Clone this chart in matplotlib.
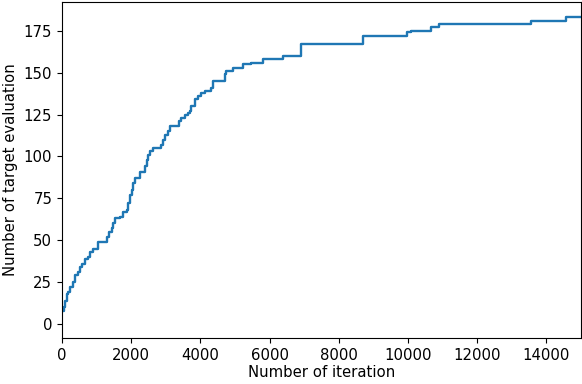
import matplotlib
matplotlib.use('Agg')
import matplotlib.pyplot as plt

# iteration at which the count increases, and the new count
iterations = [0, 58, 87, 136, 182, 231, 326, 375, 470, 519, 568, 664, 759, 808,
              903, 1047, 1290, 1365, 1434, 1480, 1529, 1673, 1769, 1867, 1913,
              1962, 2011, 2057, 2106, 2250, 2395, 2444, 2490, 2539, 2617, 2877,
              2923, 2972, 3067, 3116, 3384, 3454, 3549, 3644, 3700, 3742, 3837,
              3933, 4031, 4126, 4319, 4365, 4703, 4752, 4942, 5231, 5473, 5808,
              6385, 6916, 8693, 9983, 10098, 10666, 10906, 13551, 14579, 15000]
counts = [8, 10, 14, 18, 19, 22, 25, 29, 31, 34, 36, 39, 40, 43,
          45, 49, 52, 55, 57, 60, 63, 64, 67, 68, 72,
          77, 80, 84, 87, 91, 94, 98, 101, 103, 105, 107,
          110, 113, 115, 118, 121, 123, 125, 126, 127, 130, 134,
          136, 138, 139, 141, 145, 149, 151, 153, 155, 156, 158,
          160, 167, 172, 174, 175, 177, 179, 181, 183, 183]

fig = plt.figure(figsize=(5.82, 3.84), dpi=100)
ax = fig.add_axes([0.1065, 0.12, 0.8915, 0.875])

ax.plot(iterations, counts, drawstyle='steps-post', color='#1f77b4', linewidth=1.7)

ax.set_xlim(0, 15000)
ax.set_ylim(-8.3, 192.2)
ax.set_xticks([0, 2000, 4000, 6000, 8000, 10000, 12000, 14000])
ax.set_yticks([0, 25, 50, 75, 100, 125, 150, 175])
ax.tick_params(labelsize=10.7)
ax.set_xlabel('Number of iteration', fontsize=10.7, labelpad=2)
ax.set_ylabel('Number of target evaluation', fontsize=10.7, labelpad=4)

fig.savefig('out.png', dpi=100)
